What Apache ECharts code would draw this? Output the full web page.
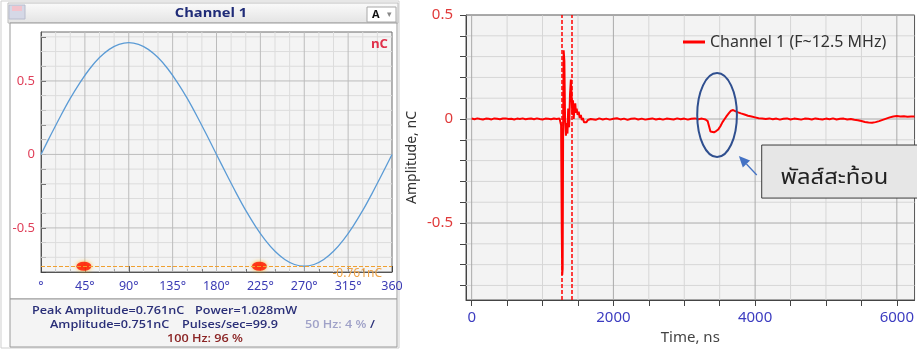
<!DOCTYPE html>
<html><head><meta charset="utf-8">
<script src="https://cdn.jsdelivr.net/npm/echarts@6/dist/echarts.min.js"></script>
<style>html,body{margin:0;padding:0;background:#fff}#c{width:917px;height:350px}</style>
</head><body><div id="c"></div>
<script>
// ---------- Left panel: phase-resolved view ----------
const phaseDeg = [0,10,20,30,40,50,60,70,80,90,100,110,120,130,140,150,160,170,180,190,200,210,220,230,240,250,260,270,280,290,300,310,320,330,340,350,360];
const sineAmp  = [0,0.132,0.260,0.381,0.489,0.583,0.659,0.715,0.749,0.761,0.749,0.715,0.659,0.583,0.489,0.381,0.260,0.132,0,-0.132,-0.260,-0.381,-0.489,-0.583,-0.659,-0.715,-0.749,-0.761,-0.749,-0.715,-0.659,-0.583,-0.489,-0.381,-0.260,-0.132,0];
const peakAmplitude = 0.761;
const amplitude = 0.751;
const powerMW = 1.028;
const pulsesPerSec = 99.9;
const share50Hz = 4;
const share100Hz = 96;
const pulsePhases = [44, 224];
const leftAmpLabels = [-0.5, 0, 0.5];

// ---------- Right panel: time-domain pulse ----------
const timeNs = [
  0,40,80,120,160,200,240,280,320,360,400,440,480,520,560,600,640,680,720,760,800,840,880,920,960,1000,1040,1080,1120,1160,1200,1240,
  1250,1262,1272,1278,1284,1290,1298,1308,1318,1330,1342,1352,1362,1375,1388,1400,1410,1420,1430,1440,1452,1462,1472,1482,1495,1510,1525,1540,1555,1570,1585,1600,1620,1640,1660,1680,
  1700,1750,1800,1850,1900,1950,2000,2050,2100,2150,2200,2250,2300,2350,2400,2450,2500,2550,2600,2650,2700,2750,2800,2850,2900,2950,3000,3050,3100,3150,3200,3250,3300,
  3330,3350,3370,3393,3420,3450,3480,3510,3540,3570,3600,3630,3660,3690,3720,3760,3800,3850,3900,3950,4000,4050,4100,4150,
  4200,4250,4300,4350,4400,4450,4500,4550,4600,4650,4700,4750,4800,4850,4900,4950,5000,5050,5100,5150,5200,5250,5300,5350,5400,
  5450,5500,5550,5600,5650,5700,5750,5800,5850,5900,5950,6000,6050,6100,6150,6200,6250
];
const ampNC = [
  0.002,-0.001,0.003,0.000,-0.002,0.002,0.001,-0.002,0.003,0.001,-0.001,0.002,0.003,0.000,0.001,-0.002,0.002,0.000,0.003,-0.001,0.001,0.002,-0.001,0.003,0.000,-0.002,0.002,0.001,-0.001,0.002,0.000,0.003,
  0.000,-0.03,-0.55,-0.75,-0.72,-0.10,0.33,0.28,0.00,-0.08,-0.02,-0.07,0.05,-0.04,0.12,0.19,0.12,0.02,0.09,0.00,0.06,0.075,0.03,0.05,0.02,0.035,0.005,0.02,-0.005,0.005,-0.015,-0.01,-0.015,-0.005,-0.01,0.000,
  0.000,-0.004,0.003,-0.002,0.002,-0.003,0.001,0.004,-0.002,0.002,-0.004,0.001,0.003,-0.002,0.002,-0.003,0.000,0.003,-0.002,0.001,-0.003,0.002,0.000,-0.002,0.003,-0.001,0.002,-0.003,0.001,0.003,-0.001,0.002,-0.002,
  -0.01,-0.035,-0.06,-0.068,-0.064,-0.058,-0.05,-0.035,-0.015,0.000,0.015,0.028,0.04,0.043,0.038,0.032,0.027,0.022,0.016,0.012,0.008,0.004,0.002,0.000,
  0.003,-0.001,0.002,-0.003,0.001,0.003,-0.002,0.002,0.000,-0.003,0.002,0.001,-0.002,0.003,0.000,-0.002,0.002,-0.001,0.003,-0.002,0.001,0.002,-0.002,0.000,-0.004,
  -0.006,-0.01,-0.014,-0.017,-0.018,-0.015,-0.01,-0.004,0.002,0.008,0.012,0.014,0.012,0.013,0.011,0.012,0.012
];
const cursorNs = [1274, 1414];
const timeLabels = [0, 2000, 4000, 6000];
const ampLabels = [-0.5, 0, 0.5];
const seriesName = 'Channel 1 (F~12.5 MHz)';
const calloutText = 'พัลส์สะท้อน';

// ---------- helpers for ticks / grid values ----------
function range(a, b, step) { const r = []; for (let v = a; v <= b + 1e-9; v += step) r.push(Math.round(v * 1000) / 1000); return r; }
const leftYTicks = range(-0.8, 0.8, 0.1);
const leftXMinor = range(0, 360, 15);
const rightYTicks = range(-0.8, 0.5, 0.1);
const rightXTicks = range(0, 6000, 500);
const isMult = (v, m) => Math.abs(v / m - Math.round(v / m)) < 1e-6;

const chart = echarts.init(document.getElementById('c'), null, { renderer: 'canvas', width: 917, height: 350 });
const baseFont = '"Noto Sans", "DejaVu Sans", sans-serif';

function glSeries(xi, xs, ys, isMajX, isMajY, minorC, majorC, xr, yr) {
  const seg = (vals, keep, dir) => vals.filter(keep).flatMap(v => dir === 'x' ? [[v, yr[0]], [v, yr[1]], [null, null]] : [[xr[0], v], [xr[1], v], [null, null]]);
  return [
    { type: 'line', xAxisIndex: xi, yAxisIndex: xi, silent: true, z: 1, showSymbol: false, connectNulls: false,
      data: seg(xs, v => !isMajX(v), 'x').concat(seg(ys, v => !isMajY(v), 'y')), lineStyle: { color: minorC, width: 1 } },
    { type: 'line', xAxisIndex: xi, yAxisIndex: xi, silent: true, z: 1, showSymbol: false, connectNulls: false,
      data: seg(xs, isMajX, 'x').concat(seg(ys, isMajY, 'y')), lineStyle: { color: majorC, width: 1 } }
  ];
}

const option = {
  animation: false,
  textStyle: { fontFamily: baseFont },
  legend: {
    data: [seriesName], left: 683, top: 34, padding: 0, icon: 'rect', itemWidth: 22, itemHeight: 3, itemGap: 5,
    textStyle: { color: '#333', fontSize: 16, fontFamily: baseFont }
  },
  grid: [
    { left: 41, top: 32, width: 351, height: 240, show: true, backgroundColor: '#f4f4f4', borderColor: '#6a6a6a', borderWidth: 1 },
    { left: 466, top: 15, width: 452, height: 285, show: true, backgroundColor: '#f3f3f3', borderColor: '#555', borderWidth: 1 }
  ],
  xAxis: [
    { gridIndex: 0, type: 'value', min: 0, max: 360, interval: 45,
      axisLine: { show: true, onZero: false, lineStyle: { color: '#555' } },
      axisTick: { show: true, inside: true, length: 6, lineStyle: { color: '#444' } },
      minorTick: { show: true, splitNumber: 3, length: 3, lineStyle: { color: '#444' } },
      splitLine: { show: false },
      axisLabel: { color: '#3a3ab4', fontSize: 12.5, margin: 8, fontFamily: baseFont,
        formatter: v => v === 0 ? '°' : (v === 360 ? '360' : v + '°') } },
    { gridIndex: 1, type: 'value', min: -80, max: 6250,
      axisLine: { show: true, onZero: false, lineStyle: { color: '#444' } },
      axisTick: { show: true, customValues: rightXTicks, length: 6, lineStyle: { color: '#444' } },
      axisLabel: { customValues: timeLabels, color: '#3c3cc0', fontSize: 15, margin: 10, fontFamily: baseFont, formatter: v => String(v) },
      splitLine: { show: false },
      name: 'Time, ns', nameLocation: 'middle', nameGap: 28,
      nameTextStyle: { color: '#444', fontSize: 15, fontFamily: baseFont } }
  ],
  yAxis: [
    { gridIndex: 0, type: 'value', min: -0.8, max: 0.833,
      axisLine: { show: true, onZero: false, lineStyle: { color: '#555' } },
      axisTick: { show: true, inside: true, customValues: leftYTicks, length: 5, lineStyle: { color: '#444' } },
      axisLabel: { customValues: leftAmpLabels, color: '#e0405a', fontSize: 13, margin: 6, fontFamily: baseFont },
      splitLine: { show: false } },
    { gridIndex: 1, type: 'value', min: -0.87, max: 0.5,
      axisLine: { show: true, onZero: false, lineStyle: { color: '#444' } },
      axisTick: { show: true, customValues: rightYTicks, length: 6, lineStyle: { color: '#444' } },
      axisLabel: { customValues: ampLabels, color: '#e03a3a', fontSize: 15, margin: 13, fontFamily: baseFont },
      splitLine: { show: false },
      name: 'Amplitude, nC', nameLocation: 'middle', nameGap: 47,
      nameTextStyle: { color: '#333', fontSize: 14, fontFamily: baseFont } }
  ],
  series: [
    ...glSeries(0, leftXMinor.slice(1, -1), leftYTicks.slice(1), v => isMult(v, 45), v => isMult(v, 0.5), '#dcdcdc', '#bcbcbc', [0, 360], [-0.8, 0.833]),
    ...glSeries(1, rightXTicks, rightYTicks, v => isMult(v, 2000), v => isMult(v, 0.5), '#d6d6d6', '#aaaaaa', [-80, 6250], [-0.87, 0.5]),
    { name: 'sine', type: 'line', xAxisIndex: 0, yAxisIndex: 0, z: 3,
      data: phaseDeg.map((p, i) => [p, sineAmp[i]]), smooth: 0.35, showSymbol: false,
      lineStyle: { color: '#5b9bd5', width: 1.3, type: 'solid' },
      markLine: { silent: true, symbol: 'none', animation: false,
        lineStyle: { color: '#f0a030', type: [4, 2], width: 1 },
        label: { show: true, position: 'insideEndBottom', formatter: '-' + peakAmplitude.toFixed(3) + 'nC', color: '#efa448', fontSize: 12, distance: [10, 1], fontFamily: baseFont },
        data: [{ yAxis: -peakAmplitude }] } },
    { name: 'pulses', type: 'scatter', xAxisIndex: 0, yAxisIndex: 0, z: 4,
      data: pulsePhases.map(p => [p, -peakAmplitude]), symbol: 'circle', symbolSize: [15, 9],
      itemStyle: { color: '#ff1000', shadowBlur: 4, shadowColor: 'rgba(255,170,0,0.95)' } },
    { name: seriesName, type: 'line', xAxisIndex: 1, yAxisIndex: 1, z: 4,
      data: timeNs.map((t, i) => [t, ampNC[i]]), showSymbol: false, sampling: 'none',
      color: '#ff0000', lineStyle: { color: '#ff0000', width: 2 },
      markLine: { silent: true, symbol: 'none', animation: false, label: { show: false },
        lineStyle: { color: '#ff0000', type: [4, 2], width: 1.5 },
        data: cursorNs.map(t => ({ xAxis: t })) } }
  ]
};
chart.setOption(option);

// ---------- decorations ----------
const P = (t, v) => chart.convertToPixel({ gridIndex: 1 }, [t, v]);
const ellC = P(3463, 0.019), ellX = P(3463 + 280, 0.019), ellY = P(3463, 0.019 + 0.202);
const arrTail = P(4023, -0.269), arrHead = P(3771, -0.178);
const boxA = P(4093, -0.125), boxB = P(6420, -0.38);
const txtP = P(4359, -0.293);
const dx = arrHead[0] - arrTail[0], dy = arrHead[1] - arrTail[1], L = Math.hypot(dx, dy);
const ux = dx / L, uy = dy / L, hl = 11, hw = 5;
const baseX = arrHead[0] - ux * hl, baseY = arrHead[1] - uy * hl;

const statFont = '600 11.5px "Open Sans", "Noto Sans", sans-serif';
const navy = '#2a2f78';
const sx = 1.1;
const T = (text, x, y, fill, font, align, scaleX) => ({ type: 'text', z: 6, x, y, scaleX: scaleX || 1,
  style: { text, x: 0, y: 0, textAlign: align || 'left', textVerticalAlign: 'middle', fill, font } });
const graphics = [
  { type: 'rect', z: -10, shape: { x: 1, y: 1, width: 398, height: 347 }, style: { fill: '#ffffff', stroke: '#cfcfcf' } },
  { type: 'rect', z: -9, shape: { x: 8, y: 3, width: 390, height: 20 },
    style: { fill: new echarts.graphic.LinearGradient(0, 0, 0, 1, [{ offset: 0, color: '#fbfbfb' }, { offset: 1, color: '#e3e3e3' }]), stroke: '#bdbdbd' } },
  { type: 'rect', z: -8, shape: { x: 10, y: 23, width: 387, height: 276 }, style: { fill: '#ffffff', stroke: '#9a9a9a' } },
  { type: 'rect', z: -8, shape: { x: 10, y: 299, width: 387, height: 48 }, style: { fill: '#f4f4f4', stroke: '#9a9a9a' } },
  { type: 'rect', z: 5, shape: { x: 9, y: 5, width: 16, height: 14 }, style: { fill: '#d5d8e6', stroke: '#b8bccc' } },
  { type: 'rect', z: 6, shape: { x: 12, y: 6, width: 10, height: 5 }, style: { fill: '#f2c3cc' } },
  T('Channel 1', 211, 14, '#1f2b77', 'bold 12px "Open Sans", sans-serif', 'center', 1.22),
  { type: 'rect', z: 5, shape: { x: 367, y: 7, width: 29, height: 15 }, style: { fill: '#ffffff', stroke: '#a8a8a8' } },
  T('A', 372, 15, '#111', 'bold 11px "Open Sans", sans-serif'),
  T('▾', 387, 15, '#888', '9px "DejaVu Sans", sans-serif'),
  Object.assign(T('nC', 388, 45, '#e0304a', 'bold 12px "Open Sans", sans-serif', 'right', 1.1), { z: 20 }),
  T('Peak Amplitude=' + peakAmplitude.toFixed(3) + 'nC', 32, 311, navy, statFont, 'left', sx),
  T('Power=' + powerMW.toFixed(3) + 'mW', 195, 311, navy, statFont, 'left', sx),
  T('Amplitude=' + amplitude.toFixed(3) + 'nC', 50, 325, navy, statFont, 'left', sx),
  T('Pulses/sec=' + pulsesPerSec, 182, 325, navy, statFont, 'left', sx),
  T('50 Hz: ' + share50Hz + ' %', 305, 325, '#a0a2c8', statFont, 'left', sx),
  T('/', 370, 325, navy, statFont, 'left', sx),
  T('100 Hz: ' + share100Hz + ' %', 205, 339, '#8b2424', statFont, 'center', sx),
  // right annotations
  { type: 'ellipse', z: 30, shape: { cx: ellC[0], cy: ellC[1], rx: Math.abs(ellX[0] - ellC[0]), ry: Math.abs(ellY[1] - ellC[1]) },
    style: { fill: 'none', stroke: '#2f4f8f', lineWidth: 2 } },
  { type: 'line', z: 30, shape: { x1: arrTail[0], y1: arrTail[1], x2: baseX, y2: baseY }, style: { stroke: '#4472c4', lineWidth: 1.3 } },
  { type: 'polygon', z: 30, shape: { points: [[arrHead[0], arrHead[1]], [baseX - uy * hw, baseY + ux * hw], [baseX + uy * hw, baseY - ux * hw]] }, style: { fill: '#4472c4' } },
  { type: 'rect', z: 30, shape: { x: boxA[0], y: boxA[1], width: boxB[0] - boxA[0], height: boxB[1] - boxA[1] }, style: { fill: '#e6e6e6', stroke: '#3a3a3a', lineWidth: 1 } },
  Object.assign(T(calloutText, txtP[0], txtP[1], '#222', '21px "Noto Sans Thai", "Noto Sans Thai UI", Tahoma, "Leelawadee UI", "Noto Sans", sans-serif', 'left', 1.13), { z: 31 })
];
chart.setOption({ graphic: graphics });
</script>
</body></html>
